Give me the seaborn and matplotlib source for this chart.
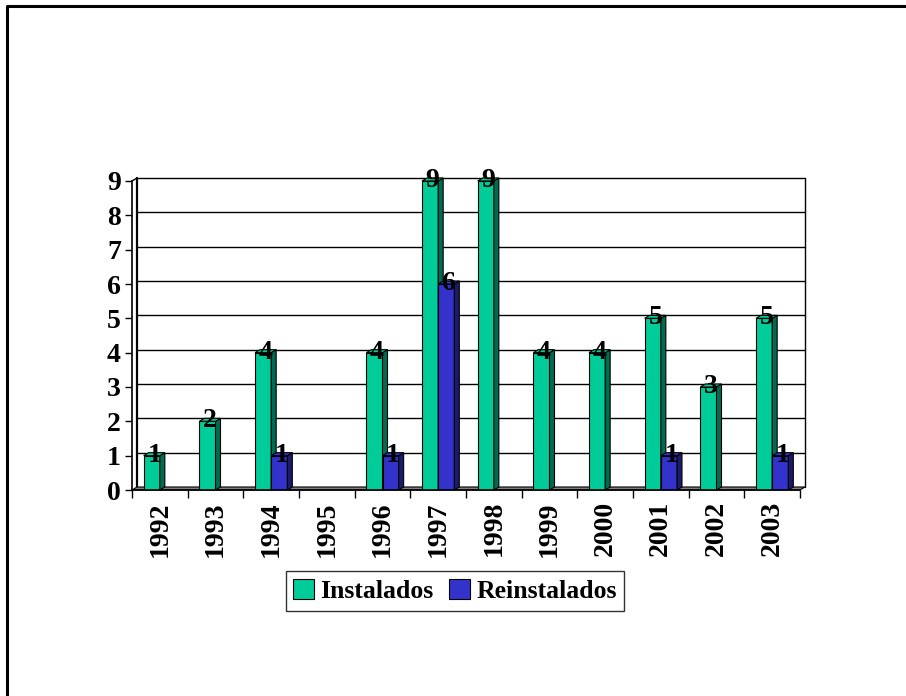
import numpy as np
import pandas as pd
import matplotlib
matplotlib.use("Agg")
import matplotlib.pyplot as plt
from matplotlib.patches import Polygon, Patch, Rectangle
from matplotlib.lines import Line2D
import seaborn as sns

years = ["1992", "1993", "1994", "1995", "1996", "1997",
         "1998", "1999", "2000", "2001", "2002", "2003"]
instalados = [1, 2, 4, 0, 4, 9, 9, 4, 4, 5, 3, 5]
reinstalados = [0, 0, 1, 0, 1, 6, 0, 0, 0, 1, 0, 1]
series_names = ["Instalados", "Reinstalados"]
y_ticks = list(range(0, 10))

front_colors = ["#00CC99", "#3333CC"]
side_colors = ["#006B50", "#1B1B6B"]

df = pd.DataFrame({
    "year": years * 2,
    "count": instalados + reinstalados,
    "tipo": [series_names[0]] * len(years) + [series_names[1]] * len(years),
})

sns.set_style("white")
plt.rcParams["font.family"] = ["Liberation Serif", "DejaVu Serif"]
plt.rcParams["font.weight"] = "bold"
plt.rcParams["text.color"] = "black"
plt.rcParams["xtick.color"] = "black"
plt.rcParams["ytick.color"] = "black"
plt.rcParams["xtick.labelcolor"] = "black"
plt.rcParams["ytick.labelcolor"] = "black"
plt.rcParams["axes.edgecolor"] = "black"

W, H, DPI = 906, 696, 100
fig = plt.figure(figsize=(W / DPI, H / DPI), dpi=DPI)

# axes box in pixels (front plane)
left_px, right_px, top_px, bot_px = 132, 800, 181, 490
ax = fig.add_axes([left_px / W, 1 - bot_px / H,
                   (right_px - left_px) / W, (bot_px - top_px) / H])

sns.barplot(data=df, x="year", y="count", hue="tipo", order=years,
            hue_order=series_names, palette=front_colors, saturation=1,
            width=0.58, edgecolor="black", linewidth=0.8, legend=False,
            ax=ax, zorder=3)
bars = [p for p in ax.patches if isinstance(p, Rectangle)]

ax.set_xlim(-0.5, len(years) - 0.5)
ax.set_ylim(0, 9)

# depth of the pseudo-3D effect, converted from pixels to data units
ux = len(years) / (right_px - left_px)
uy = 9 / (bot_px - top_px)
dx, dy = 5 * ux, 3 * uy

x_lo, x_hi = -0.5, len(years) - 0.5

# back wall gridlines and edges
for yv in y_ticks[1:]:
    ax.add_line(Line2D([x_lo + dx, x_hi + dx], [yv + dy, yv + dy],
                       color="black", lw=1.0, zorder=1, clip_on=False))
ax.add_line(Line2D([x_lo + dx, x_lo + dx], [dy, 9 + dy], color="black",
                   lw=1.6, zorder=1, clip_on=False))
ax.add_line(Line2D([x_hi + dx, x_hi + dx], [dy, 9 + dy], color="black",
                   lw=1.0, zorder=1, clip_on=False))
ax.add_line(Line2D([x_lo, x_lo + dx], [9, 9 + dy], color="black",
                   lw=1.0, zorder=1, clip_on=False))
# floor
ax.add_patch(Polygon([[x_lo, 0], [x_hi, 0], [x_hi + dx, dy], [x_lo + dx, dy]],
                     closed=True, facecolor="#808080", edgecolor="black",
                     lw=0.8, zorder=2, clip_on=False))

# side and top faces of each bar, plus value labels
n = len(years)
values = instalados + reinstalados
for i, p in enumerate(bars[:2 * n]):
    s = i // n
    c = i % n
    v = values[i]
    if v == 0:
        p.set_visible(False)
        continue
    x0, w, h = p.get_x(), p.get_width(), p.get_height()
    z = 3 + 0.01 * (s * n + c)
    p.set_zorder(z)
    side = Polygon([[x0 + w, 0], [x0 + w, h], [x0 + w + dx, h + dy],
                    [x0 + w + dx, dy]], closed=True,
                   facecolor=side_colors[s], edgecolor="black", lw=0.8,
                   zorder=z, clip_on=False)
    top = Polygon([[x0, h], [x0 + w, h], [x0 + w + dx, h + dy],
                   [x0 + dx, h + dy]], closed=True,
                  facecolor=front_colors[s], edgecolor="black", lw=0.8,
                  zorder=z, clip_on=False)
    ax.add_patch(side)
    ax.add_patch(top)
    ax.text(x0 + w / 2 + dx / 2, h - 6 * uy, str(v), ha="center",
            va="baseline", fontsize=20, fontweight="bold", color="black",
            zorder=10, clip_on=False)

# spines and ticks
for side_name in ["top", "right"]:
    ax.spines[side_name].set_visible(False)
for side_name in ["left", "bottom"]:
    ax.spines[side_name].set_linewidth(1.2)
    ax.spines[side_name].set_color("black")
    ax.spines[side_name].set_zorder(4)

ax.set_yticks(y_ticks)
ax.set_yticklabels([str(t) for t in y_ticks], fontsize=20, fontweight="bold",
                   color="black")
ax.tick_params(axis="y", direction="out", length=5, width=1, pad=3,
               left=True, color="black")
ax.set_xticks(range(n))
ax.set_xticklabels(years, rotation=90, fontsize=20, fontweight="bold",
                   color="black")
ax.set_xticks(np.arange(-0.5, n, 1.0), minor=True)
ax.tick_params(axis="x", which="major", length=0, pad=8)
ax.tick_params(axis="x", which="minor", direction="out", length=6, width=1,
               bottom=True, color="black")
ax.set_xlabel("")
ax.set_ylabel("")

# legend
handles = [Patch(facecolor=front_colors[k], edgecolor="black", lw=0.8,
                 label=series_names[k]) for k in range(2)]
leg = fig.legend(handles=handles, loc="center", ncol=2,
                 bbox_to_anchor=(455 / W, 1 - 591 / H),
                 prop={"family": "Liberation Serif", "weight": "bold",
                       "size": 18.5},
                 frameon=True, fancybox=False, handlelength=0.8,
                 handleheight=0.8, handletextpad=0.25, columnspacing=0.6,
                 borderpad=0.3, borderaxespad=0, labelcolor="black")
leg.get_frame().set_edgecolor("black")
leg.get_frame().set_linewidth(1.0)

# outer frame
fig.add_artist(Line2D([7 / W, 7 / W, 1.0], [0.0, 1 - 6 / H, 1 - 6 / H],
                      transform=fig.transFigure, color="black", lw=2.2))

fig.savefig("out.png", dpi=DPI)
